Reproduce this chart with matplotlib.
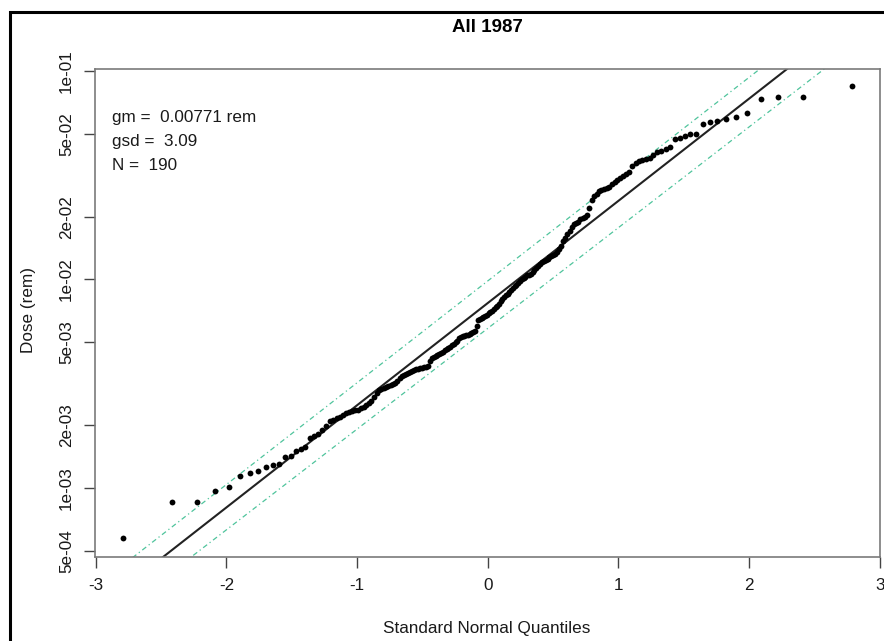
import matplotlib
matplotlib.use('Agg')
import matplotlib.pyplot as plt
from matplotlib.patches import Rectangle
import numpy as np
from statistics import NormalDist

plt.rcParams['font.family'] = ['Liberation Sans', 'DejaVu Sans']

titulo = 'All 1987'
gm = 0.00771
gsd = 3.09
n_datos = 190

# bandas de referencia
gm_sup, gsd_sup = 0.00984, 3.076
gm_inf, gsd_inf = 0.00583, 3.04

# dosis ordenadas (rem)
dosis = [
    5.74e-4, 8.61e-4, 8.60e-4, 9.64e-4, 1.008e-3, 1.14e-3, 1.18e-3, 1.21e-3, 1.26e-3, 1.29e-3,
    1.31e-3, 1.41e-3, 1.43e-3, 1.51e-3, 1.54e-3, 1.58e-3, 1.74e-3, 1.78e-3, 1.82e-3, 1.90e-3,
    1.99e-3, 2.10e-3, 2.13e-3, 2.17e-3, 2.19e-3, 2.24e-3, 2.29e-3, 2.32e-3, 2.33e-3, 2.36e-3,
    2.38e-3, 2.42e-3, 2.46e-3, 2.51e-3, 2.56e-3, 2.63e-3, 2.74e-3, 2.86e-3, 2.96e-3, 2.99e-3,
    3.02e-3, 3.06e-3, 3.09e-3, 3.12e-3, 3.16e-3, 3.19e-3, 3.27e-3, 3.38e-3, 3.45e-3, 3.49e-3,
    3.53e-3, 3.57e-3, 3.61e-3, 3.65e-3, 3.69e-3, 3.71e-3, 3.73e-3, 3.75e-3, 3.77e-3, 3.79e-3,
    3.81e-3, 3.85e-3, 4.07e-3, 4.19e-3, 4.23e-3, 4.28e-3, 4.33e-3, 4.38e-3, 4.45e-3, 4.50e-3,
    4.57e-3, 4.65e-3, 4.70e-3, 4.75e-3, 4.83e-3, 4.91e-3, 4.99e-3, 5.08e-3, 5.22e-3, 5.28e-3,
    5.34e-3, 5.37e-3, 5.40e-3, 5.43e-3, 5.49e-3, 5.55e-3, 5.58e-3, 5.64e-3, 5.99e-3, 6.37e-3,
    6.47e-3, 6.55e-3, 6.62e-3, 6.69e-3, 6.77e-3, 6.88e-3, 6.99e-3, 7.07e-3, 7.23e-3, 7.35e-3,
    7.47e-3, 7.64e-3, 7.85e-3, 8.07e-3, 8.25e-3, 8.39e-3, 8.53e-3, 8.72e-3, 8.91e-3, 9.11e-3,
    9.27e-3, 9.42e-3, 9.63e-3, 9.85e-3, 1.001e-2, 1.012e-2, 1.03e-2, 1.046e-2, 1.052e-2, 1.064e-2,
    1.09e-2, 1.11e-2, 1.14e-2, 1.16e-2, 1.19e-2, 1.21e-2, 1.23e-2, 1.24e-2, 1.26e-2, 1.28e-2,
    1.30e-2, 1.31e-2, 1.33e-2, 1.36e-2, 1.40e-2, 1.44e-2, 1.53e-2, 1.58e-2, 1.65e-2, 1.71e-2,
    1.79e-2, 1.85e-2, 1.86e-2, 1.89e-2, 1.95e-2, 1.97e-2, 2.00e-2, 2.04e-2, 2.20e-2, 2.41e-2,
    2.52e-2, 2.57e-2, 2.66e-2, 2.70e-2, 2.73e-2, 2.76e-2, 2.79e-2, 2.86e-2, 2.94e-2, 3.00e-2,
    3.07e-2, 3.14e-2, 3.19e-2, 3.28e-2, 3.50e-2, 3.62e-2, 3.70e-2, 3.74e-2, 3.79e-2, 3.83e-2,
    3.96e-2, 4.09e-2, 4.14e-2, 4.23e-2, 4.30e-2, 4.72e-2, 4.77e-2, 4.88e-2, 4.97e-2, 4.99e-2,
    5.55e-2, 5.70e-2, 5.76e-2, 5.89e-2, 6.00e-2, 6.31e-2, 7.32e-2, 7.48e-2, 7.47e-2, 8.48e-2,
]

ticks_y = [5e-4, 1e-3, 2e-3, 5e-3, 1e-2, 2e-2, 5e-2, 1e-1]
etiquetas_y = ['5e-04', '1e-03', '2e-03', '5e-03', '1e-02', '2e-02', '5e-02', '1e-01']
ticks_x = [-3, -2, -1, 0, 1, 2, 3]

# cuantiles teoricos (ppoints de R)
nd = NormalDist()
cuantiles = [nd.inv_cdf((i - 0.5) / n_datos) for i in range(1, n_datos + 1)]

fig = plt.figure(figsize=(8.84, 6.41), dpi=100)
ax = fig.add_axes([0.1075, 0.1315, 0.8885, 0.761])

zz = np.linspace(-3.5, 3.5, 50)
ax.plot(zz, gm_sup * gsd_sup ** zz, color='#4fc49c', lw=0.9, ls=(0, (1, 2.5, 4, 2.5)))
ax.plot(zz, gm_inf * gsd_inf ** zz, color='#4fc49c', lw=0.9, ls=(0, (1, 2.5, 4, 2.5)))
ax.plot(zz, gm * gsd ** zz, color='#222222', lw=1.5)
ax.plot(cuantiles, sorted(dosis), 'o', color='black', markersize=4.2, markeredgewidth=0)

ax.set_yscale('log')
ax.set_xlim(-3.005, 3.005)
ax.set_ylim(4.69e-4, 0.1022)
ax.set_xticks(ticks_x)
ax.set_xticklabels([str(t) for t in ticks_x])
ax.set_yticks(ticks_y)
ax.set_yticklabels(etiquetas_y, rotation=90, va='center')
ax.minorticks_off()
ax.tick_params(axis='both', direction='out', length=8, width=1, color='#444444',
               labelsize=12.3, labelcolor='#1a1a1a')
ax.tick_params(axis='x', pad=7.5)
ax.tick_params(axis='y', pad=7)
for s in ax.spines.values():
    s.set_color('#7a7a7a')
    s.set_linewidth(1.2)

fig.text(487 / 884, 1 - 28 / 641, titulo, fontsize=13.5, fontweight='bold', ha='center', va='center')

fig.text(487 / 884, 1 - 629 / 641, 'Standard Normal Quantiles', fontsize=12.3, ha='center', va='center', color='#1a1a1a')
fig.text(28 / 884, 1 - 310 / 641, 'Dose (rem)', fontsize=12.3, rotation=90, ha='center', va='center', color='#1a1a1a')

fig.text(112 / 884, 1 - 122 / 641, 'gm =  0.00771 rem', fontsize=12.3, va='baseline', color='#1a1a1a')
fig.text(112 / 884, 1 - 146 / 641, 'gsd =  3.09', fontsize=12.3, va='baseline', color='#1a1a1a')
fig.text(112 / 884, 1 - 170.5 / 641, 'N =  190', fontsize=12.3, va='baseline', color='#1a1a1a')

# marco de la imagen
fig.patches.append(Rectangle((10 / 884, -0.2), 2.0, 1.2 - 12 / 641, transform=fig.transFigure,
                             fill=False, edgecolor='black', lw=2.2, clip_on=False))

fig.savefig('out.png', dpi=100)
